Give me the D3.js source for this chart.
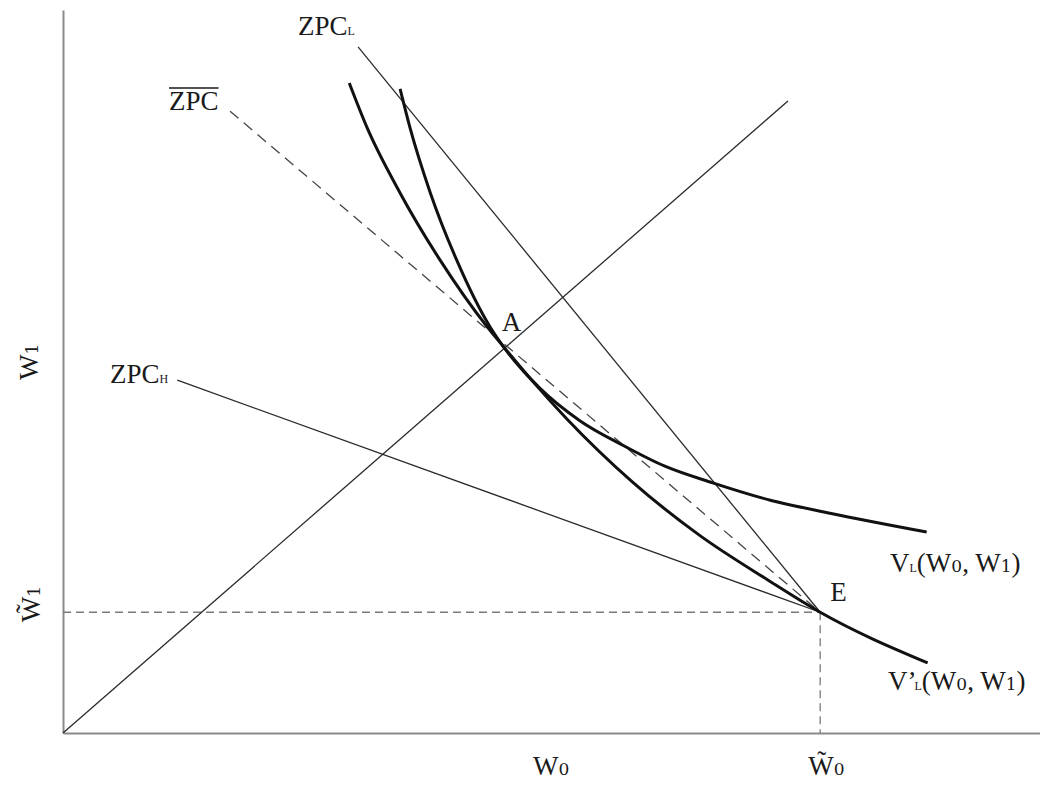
<!DOCTYPE html>
<html><head><meta charset="utf-8">
<script src="https://cdn.jsdelivr.net/npm/d3@7"></script>
<style>
body{margin:0;background:#fff;}
text{font-family:"Liberation Serif","Times New Roman",serif;fill:#1a1a1a;}
.dig{font-family:"DejaVu Serif","Liberation Serif",serif;}
</style></head>
<body>
<svg id="c" width="1040" height="785"></svg>
<script>
// ---- data (diagram units) ----
const pointA = [45.1, 53.4];
const pointE = [77.5, 16.7];
const line45 = [[0, 0], [74.2, 87.4]];
const lineZPCL = [[30.2, 94.9], [77.5, 16.7]];
const lineZPCbar = [[17.1, 86.0], [77.5, 16.7]];
const lineZPCH = [[11.7, 48.8], [77.5, 16.7]];
const curveVL = [[34.5, 89.1], [35.5, 83.8], [37.6, 74.7], [40.3, 65.4], [43.7, 56.2], [45.1, 53.4],
  [48.8, 47.7], [52.9, 43.2], [57.3, 39.8], [61.6, 36.9], [66.5, 34.6], [72.4, 32.2], [78.5, 30.4], [88.4, 27.8]];
const curveVLp = [[29.3, 89.9], [31.1, 83.8], [34.5, 74.7], [38.6, 65.4], [43.4, 56.2], [45.1, 53.4],
  [48.1, 48.6], [51.6, 43.4], [58.3, 34.7], [65.2, 27.3], [72.1, 21.2], [77.5, 16.7], [88.5, 9.7]];
const xDomain = [0, 100];
const yDomain = [0, 100];

const svg = d3.select("#c");
const x = d3.scaleLinear().domain(xDomain).range([63, 1040]);
const y = d3.scaleLinear().domain(yDomain).range([733, 10]);

// axes
svg.append("g").attr("transform", `translate(0,${y(0)})`)
  .call(d3.axisBottom(x).tickValues([]).tickSizeOuter(0))
  .call(g => g.select(".domain").attr("stroke", "#8a8a8a").attr("stroke-width", 2));
svg.append("g").attr("transform", `translate(${x(0)},0)`)
  .call(d3.axisLeft(y).tickValues([]).tickSizeOuter(0))
  .call(g => g.select(".domain").attr("stroke", "#8a8a8a").attr("stroke-width", 2));

const line = d3.line().x(d => x(d[0])).y(d => y(d[1]));
const curve = d3.line().x(d => x(d[0])).y(d => y(d[1])).curve(d3.curveMonotoneX);

// dashed guides to E
svg.append("path").attr("d", line([[0, pointE[1]], pointE])).attr("fill", "none")
  .attr("stroke", "#7a7a7a").attr("stroke-width", 1.3).attr("stroke-dasharray", "8,5");
svg.append("path").attr("d", line([pointE, [pointE[0], 0]])).attr("fill", "none")
  .attr("stroke", "#7a7a7a").attr("stroke-width", 1.3).attr("stroke-dasharray", "8,5");

// straight lines
[line45, lineZPCL, lineZPCH].forEach(d => svg.append("path").attr("d", line(d))
  .attr("fill", "none").attr("stroke", "#2a2a2a").attr("stroke-width", 1.3));
svg.append("path").attr("d", line(lineZPCbar)).attr("fill", "none")
  .attr("stroke", "#444").attr("stroke-width", 1.3).attr("stroke-dasharray", "11,7");

// curves
[curveVL, curveVLp].forEach(d => svg.append("path").attr("d", curve(d))
  .attr("fill", "none").attr("stroke", "#111").attr("stroke-width", 3));

// ---- text helpers ----
const BIG = 27, SMALL = 12, DIG = 17;
// part: [text, size, isDigit, dx]
function fill(t, parts) {
  parts.forEach(p => {
    const s = t.append("tspan").attr("font-size", p[1]).text(p[0]);
    if (p[2]) s.attr("class", "dig");
    if (p[3]) s.attr("dx", p[3]);
  });
  return t;
}
function label(px, py, parts, anchor) {
  const t = svg.append("text").attr("x", px).attr("y", py).attr("text-anchor", anchor || "start");
  return fill(t, parts);
}

// ZPC_L
label(298, 35, [["ZPC", BIG], ["L", SMALL]]);
// ZPC bar
const zb = label(169, 110, [["ZPC", BIG]]);
const zbw = zb.node().getComputedTextLength();
svg.append("line").attr("x1", 169).attr("x2", 169 + zbw).attr("y1", 88).attr("y2", 88)
  .attr("stroke", "#1a1a1a").attr("stroke-width", 1.3);
// ZPC_H
label(110, 383, [["ZPC", BIG], ["H", SMALL]]);
// A, E
label(x(pointA[0]) - 2, y(pointA[1]) - 16, [["A", BIG]]);
label(x(pointE[0]) + 10, y(pointE[1]) - 11, [["E", BIG]]);
// V_L
label(890, 572, [["V", BIG], ["L", SMALL], ["(W", BIG], ["0", DIG, true], [", W", BIG], ["1", DIG, true], [")", BIG]]);
// V'_L
label(888, 690, [["V\u2019", BIG], ["L", SMALL, false, -2], ["(W", BIG], ["0", DIG, true], [", W", BIG], ["1", DIG, true], [")", BIG]]);

// x labels
label(533, 775, [["W", BIG], ["0", DIG, true]]);
label(x(pointE[0]) - 12, 775, [["W\u0303", BIG], ["0", DIG, true]]);

// y labels (rotated)
const gy1 = svg.append("g").attr("transform", "translate(38,380) rotate(-90)");
fill(gy1.append("text"), [["W", BIG], ["1", DIG, true]]);
const gy2 = svg.append("g").attr("transform", `translate(40,${y(pointE[1]) + 10}) rotate(-90)`);
fill(gy2.append("text"), [["W\u0303", BIG], ["1", DIG, true]]);
</script>
</body></html>
